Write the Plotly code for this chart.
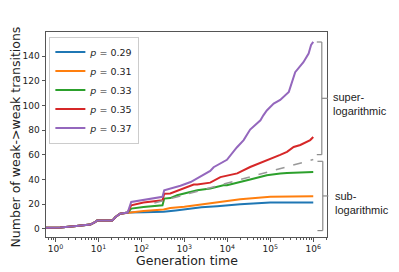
import plotly.graph_objects as go

# ---- data ----
labels = ["<i>p</i> = 0.29", "<i>p</i> = 0.31", "<i>p</i> = 0.33", "<i>p</i> = 0.35", "<i>p</i> = 0.37"]
colors = ["#1f77b4", "#ff7f0e", "#2ca02c", "#d62728", "#9467bd"]
x_title = "Generation time"
y_title = "Number of weak->weak transitions"

# common early history (all runs identical)
t_common = [0.6, 1.3, 2.7, 4.5, 6.5, 8.5, 9.3, 21, 25, 32, 45]
n_common = [1.0, 1.1, 2.2, 3.0, 3.6, 5.7, 6.8, 6.8, 9.7, 12.4, 13.0]

t_029 = [50, 112, 330, 630, 1400, 2500, 5800, 20000, 100000, 1000000]
n_029 = [13.3, 13.5, 14.0, 15.0, 16.5, 17.5, 18.4, 20.0, 21.4, 21.4]

t_031 = [50, 58, 112, 330, 470, 1000, 2000, 2800, 5800, 20000, 100000, 1000000]
n_031 = [13.3, 13.8, 14.6, 15.7, 17.0, 18.0, 19.5, 20.2, 21.9, 24.0, 26.0, 26.5]

t_033 = [48, 58, 112, 310, 340, 470, 680, 2000, 4000, 8100, 9800, 34000, 83000, 170000, 245000, 1000000]
n_033 = [13.3, 16.5, 17.8, 19.2, 24.6, 25.0, 27.3, 31.3, 32.7, 35.4, 35.4, 40.0, 43.5, 45.0, 45.4, 46.2]

t_035 = [48, 58, 112, 310, 340, 470, 950, 1650, 2000, 4000, 6900, 17000, 34000, 69000, 83000,
         170000, 245000, 350000, 500000, 590000, 850000, 1000000]
n_035 = [13.3, 19.2, 21.4, 23.2, 28.6, 28.8, 32.7, 36.0, 36.0, 37.5, 42.0, 45.0, 50.2, 54.3, 55.6,
         60.0, 62.5, 66.4, 68.0, 69.1, 72.0, 74.5]

t_037 = [48, 58, 95, 195, 310, 340, 470, 680, 810, 1400, 1800, 2350, 4000, 4800, 8900, 9800, 16600,
         24000, 34000, 59000, 69000, 83000, 120000, 155000, 170000, 270000, 380000, 590000, 780000,
         890000, 1000000]
n_037 = [13.3, 21.9, 23.2, 24.6, 26.0, 31.3, 32.5, 34.0, 35.0, 38.0, 40.0, 42.5, 47.0, 50.0, 55.6, 56.0,
         66.0, 72.0, 80.5, 88.0, 92.0, 96.0, 101.5, 104.0, 104.5, 111.0, 127.0, 135.0, 142.0,
         149.0, 151.5]

t_series = [t_029, t_031, t_033, t_035, t_037]
n_series = [n_029, n_031, n_033, n_035, n_037]

# logarithmic reference line
t_ref = [200, 1000000]
n_ref = [21.0, 56.2]

x_tickvals = [1, 10, 100, 1000, 10000, 100000, 1000000]
x_ticktext = ["10<sup>0</sup>", "10<sup>1</sup>", "10<sup>2</sup>", "10<sup>3</sup>",
              "10<sup>4</sup>", "10<sup>5</sup>", "10<sup>6</sup>"]
y_tickvals = [0, 20, 40, 60, 80, 100, 120, 140]

# bracket extents (data units on y)
super_range = [60.2, 151.4]
sub_range = [-1.3, 54.8]

fig = go.Figure()
for lab, col, ts, ns in zip(labels, colors, t_series, n_series):
    fig.add_trace(go.Scatter(x=t_common + ts, y=n_common + ns, mode="lines", name=lab,
                             line=dict(color=col, width=2)))

fig.add_trace(go.Scatter(x=t_ref, y=n_ref, mode="lines", showlegend=False,
                         line=dict(color="#999999", width=1.5, dash="dash")))

axis_col = "#555555"
fig.update_layout(
    width=399, height=272,
    margin=dict(l=46, r=72, t=32, b=35),
    paper_bgcolor="white", plot_bgcolor="white",
    font=dict(family="DejaVu Sans", size=9, color="#222222"),
    showlegend=True,
    legend=dict(x=0.012, y=0.978, xanchor="left", yanchor="top",
                bgcolor="rgba(255,255,255,0.9)", bordercolor="#cccccc", borderwidth=1,
                font=dict(size=9.5), tracegroupgap=0, itemwidth=30),
)
fig.update_xaxes(type="log", range=[-0.22, 6.32], automargin=False,
                 tickmode="array", tickvals=x_tickvals, ticktext=x_ticktext,
                 ticks="outside", ticklen=3.5, tickcolor=axis_col,
                 showline=True, linecolor=axis_col, linewidth=1, mirror=True,
                 showgrid=False, zeroline=False,
                 minor=dict(ticks="outside", ticklen=2, tickcolor=axis_col, dtick="D1", showgrid=False))
fig.update_yaxes(range=[-6.5, 159.5], tickmode="array", tickvals=y_tickvals, automargin=False,
                 ticks="outside", ticklen=3.5, tickcolor=axis_col,
                 showline=True, linecolor=axis_col, linewidth=1, mirror=True,
                 showgrid=False, zeroline=False)

# axis titles
fig.add_annotation(xref="paper", yref="paper", x=0.5, y=-0.114, xanchor="center", yanchor="middle",
                   text=x_title, showarrow=False, font=dict(size=12.5, color="#222222"))
fig.add_annotation(xref="paper", yref="paper", x=-0.107, y=0.49, xanchor="center", yanchor="middle",
                   text=y_title, textangle=-90, showarrow=False, font=dict(size=12.5, color="#222222"))

br_col = "#8a8a8a"
def bracket(lo, hi, xv, xh, xt):
    mid = (lo + hi) / 2
    for (x0, y0, x1, y1) in [(xh, hi, xv, hi), (xv, hi, xv, lo), (xh, lo, xv, lo), (xv, mid, xt, mid)]:
        fig.add_shape(type="line", xref="paper", yref="y", x0=x0, y0=y0, x1=x1, y1=y1,
                      line=dict(color=br_col, width=1.2))
    return mid

m1 = bracket(super_range[0], super_range[1], 0.9815, 0.9637, 1.003)
m2 = bracket(sub_range[0], sub_range[1], 0.985, 0.966, 1.005)

fig.add_annotation(xref="paper", yref="y", x=1.015, y=m1 - 5, xanchor="left", yanchor="middle",
                   text="super-<br>logarithmic", showarrow=False, align="left",
                   font=dict(family="Liberation Sans", size=11, color="#222222"))
fig.add_annotation(xref="paper", yref="y", x=1.02, y=m2 - 5.5, xanchor="left", yanchor="middle",
                   text="sub-<br>logarithmic", showarrow=False, align="left",
                   font=dict(family="Liberation Sans", size=11, color="#222222"))

fig.write_html("out.html", config={"displayModeBar": False},
               post_script="document.body.style.margin='0';")
